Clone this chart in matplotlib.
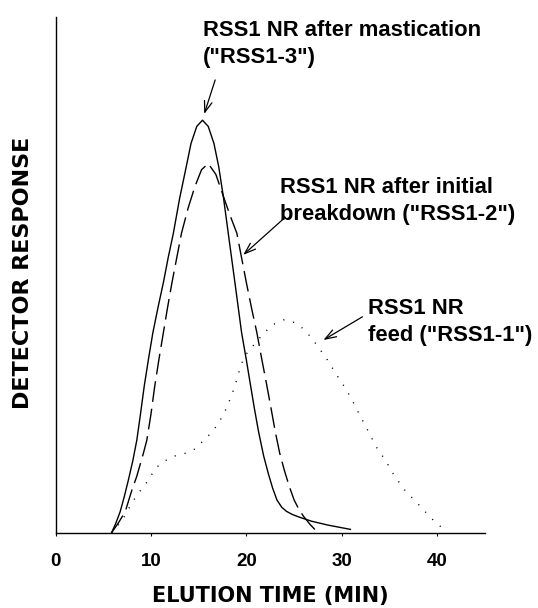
import matplotlib
matplotlib.use("Agg")
import matplotlib.pyplot as plt

# ---- data ----
# RSS1-3 : after mastication (solid)
x_rss13 = [5.86, 6.3, 6.77, 7.2, 7.64, 8.1, 8.52, 8.9, 9.3, 9.75, 10.2, 10.75,
           11.3, 11.8, 12.35, 13.0, 13.7, 14.2, 14.8, 15.4, 16.0, 16.6, 17.1,
           17.6, 18.1, 18.8, 19.5, 20.0, 20.4, 20.85, 21.3, 21.8, 22.3, 22.75,
           23.2, 23.7, 24.2, 24.8, 25.5, 26.8, 28.5, 30.9]
y_rss13 = [0, 1.8, 4.1, 7.0, 10.3, 14.0, 18.0, 23.0, 28.5, 33.8, 38.8, 43.8,
           48.5, 53.3, 58.1, 64.8, 71.0, 75.5, 78.8, 80.0, 78.8, 75.5, 71.0,
           65.0, 58.1, 48.5, 38.8, 33.5, 29.0, 24.0, 19.4, 15.0, 11.5, 8.7,
           6.4, 5.0, 4.2, 3.6, 3.1, 2.3, 1.55, 0.7]

# RSS1-2 : after initial breakdown (dashed)
x_rss12 = [5.86, 6.6, 7.3, 8.0, 8.5, 9.2, 9.57, 10.0, 10.4, 10.85, 11.3, 11.75,
           12.2, 12.7, 13.2, 13.9, 14.6, 15.3, 16.0, 16.8, 17.6, 18.3, 19.0,
           19.5, 20.0, 20.55, 21.1, 21.6, 22.1, 22.6, 23.05, 23.5, 24.0, 24.5,
           25.0, 25.5, 26.0, 26.7, 27.4]
y_rss12 = [0, 2.0, 4.1, 8.3, 10.9, 15.4, 18.0, 23.0, 28.5, 33.8, 38.8, 43.8,
           48.5, 53.3, 58.1, 63.0, 67.1, 70.4, 71.6, 69.5, 65.2, 61.5, 58.1,
           53.3, 48.5, 43.5, 38.8, 33.8, 29.0, 24.0, 19.4, 15.4, 12.0, 9.0,
           6.4, 4.6, 3.2, 1.6, 0.25]

# RSS1-1 : feed (dotted)
x_rss11 = [5.86, 6.5, 7.1, 7.6, 8.1, 8.6, 9.1, 9.6, 10.1, 10.7, 11.5, 12.2,
           12.9, 13.7, 14.45, 15.0, 15.5, 16.1, 16.6, 17.3, 18.0, 18.8, 19.5,
           20.1, 20.8, 21.8, 22.8, 23.9, 24.8, 25.7, 26.5, 27.4, 28.5, 29.5,
           30.4, 31.2, 32.0, 32.8, 33.6, 34.6, 35.5, 36.6, 38.0, 39.4, 40.95]
y_rss11 = [0, 1.4, 2.8, 4.5, 6.1, 7.5, 8.7, 9.9, 11.4, 12.9, 14.0, 14.8,
           15.1, 15.5, 16.1, 16.9, 18.0, 19.0, 20.0, 22.0, 24.5, 28.5, 32.9,
           35.0, 36.5, 38.7, 40.4, 41.3, 41.0, 40.0, 38.5, 36.4, 33.5, 30.5,
           28.0, 25.3, 22.4, 19.6, 16.7, 14.0, 11.1, 8.3, 5.6, 2.8, 0.25]

x_ticks = [0, 10, 20, 30, 40]
x_label = "ELUTION TIME (MIN)"
y_label = "DETECTOR RESPONSE"
label_rss13 = 'RSS1 NR after mastication\n("RSS1-3")'
label_rss12 = 'RSS1 NR after initial\nbreakdown ("RSS1-2")'
label_rss11 = 'RSS1 NR\nfeed ("RSS1-1")'

# ---- figure ----
W, H = 538, 608
fig = plt.figure(figsize=(W / 100, H / 100), dpi=100)
ax = fig.add_axes([55.5 / W, 1 - 533 / H, (485 - 55.5) / W, (533 - 17) / H])

ax.plot(x_rss13, y_rss13, color="black", lw=1.0, solid_joinstyle="round")
ax.plot(x_rss12, y_rss12, color="black", lw=1.0, linestyle=(0, (15, 5)))
ax.plot(x_rss11, y_rss11, color="black", lw=1.0, linestyle=(0, (0.8, 6.5)))

ax.set_xlim(0, 45)
ax.set_ylim(0, 100)
ax.set_xticks(x_ticks)
ax.set_xticklabels([str(t) for t in x_ticks], fontfamily="Liberation Sans",
                   fontweight="bold", fontsize=13.5)
ax.set_yticks([])
ax.tick_params(axis="x", direction="out", length=2.2, width=0.8, pad=12)
for s in ["top", "right"]:
    ax.spines[s].set_visible(False)
for s in ["left", "bottom"]:
    ax.spines[s].set_linewidth(1.0)

ax.set_xlabel(x_label, fontfamily="DejaVu Sans", fontweight="bold",
              fontsize=15, labelpad=12)
fig.text(23.5 / W, 1 - 273 / H, y_label, rotation=90, ha="center", va="center",
         fontfamily="DejaVu Sans", fontweight="bold", fontsize=16)

tkw = dict(fontfamily="Liberation Sans", fontweight="bold", fontsize=15.8,
           ha="left", va="top", linespacing=1.38, clip_on=False)
ax.text(15.48, 99.4, label_rss13, **tkw)
ax.text(23.56, 69.0, label_rss12, **tkw)
ax.text(32.69, 45.5, label_rss11, **tkw)

akw = dict(arrowstyle="->,head_length=0.8,head_width=0.28", lw=0.9,
           color="black", shrinkA=0, shrinkB=0)
ax.annotate("", xy=(15.58, 81.2), xytext=(16.73, 87.8), arrowprops=akw)
ax.annotate("", xy=(19.67, 53.9), xytext=(24.08, 61.2), arrowprops=akw)
ax.annotate("", xy=(28.07, 37.4), xytext=(32.16, 41.9), arrowprops=akw)

fig.savefig("out.png", dpi=100, facecolor="white")
